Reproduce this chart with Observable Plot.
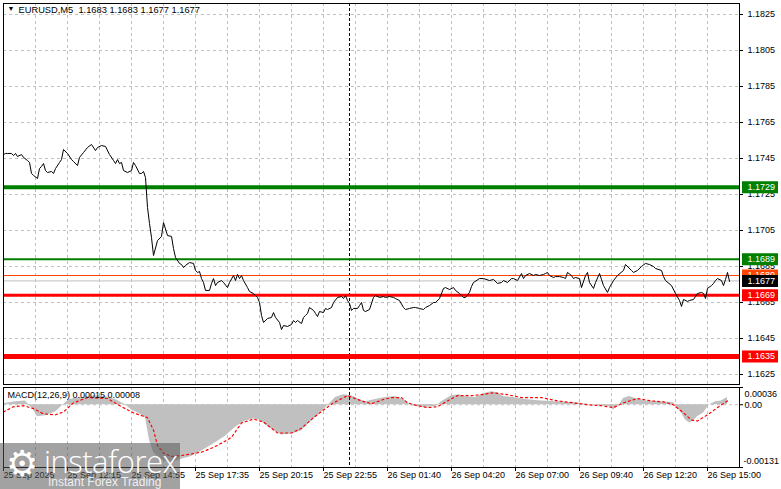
<!DOCTYPE html>
<html><head><meta charset="utf-8">
<script src="https://cdn.jsdelivr.net/npm/d3@7"></script>
<script src="https://cdn.jsdelivr.net/npm/@observablehq/plot@0.6"></script>
<style>
body{margin:0;background:#fff;}
#wrap{position:relative;width:781px;height:489px;overflow:hidden;font-family:"Liberation Sans",Arial,sans-serif;background:#fff;}
#wrap svg{position:absolute;left:0;}
#wm{position:absolute;left:0;top:443px;width:180px;height:46px;background:rgba(85,85,85,0.55);color:#fff;}
#wm .gear{position:absolute;left:6px;top:-2px;font-family:"DejaVu Sans";font-size:36px;line-height:46px;}
#wm .name{position:absolute;left:44px;top:1px;font-family:"Open Sans","Liberation Sans";font-weight:300;font-size:31px;line-height:34px;letter-spacing:-0.5px;}
#wm .tag{position:absolute;left:48px;top:32px;font-family:"Liberation Sans";font-size:12px;line-height:14px;color:rgba(255,255,255,0.85);}
</style></head><body><div id="wrap"></div>
<script>
// ---- data ----
const chartTitle = "EURUSD,M5  1.1683 1.1683 1.1677 1.1677";
const macdTitle = "MACD(12,26,9) 0.00015 0.00008";
const priceTicks = [1.1825, 1.1805, 1.1785, 1.1765, 1.1745, 1.1725, 1.1705, 1.1685, 1.1665, 1.1645, 1.1625];
const macdTicks = [0.00036, 0, -0.00131];
const macdTickLabels = ["0.00036", "0.00", "-0.00131"];
const timeBars = [0, 32, 64, 96, 128, 160, 192, 224, 256, 288, 320, 352];
const timeLabels = ["25 Sep 2025", "25 Sep 12:15", "25 Sep 14:55", "25 Sep 17:35", "25 Sep 20:15", "25 Sep 22:55",
  "26 Sep 01:40", "26 Sep 04:20", "26 Sep 07:00", "26 Sep 09:40", "26 Sep 12:20", "26 Sep 15:00"];
const gridBars = d3.range(0, 369, 16);
const separatorBar = 173; // 26 Sep 00:00
const barCount = 368;

const resistance = [1.1729, 1.1689];
const support = [1.1669, 1.1635];
const askPrice = 1.1680;
const bidPrice = 1.1677;

const priceBar = [0,1,2,4,5,6,7,9,10,12,13,14,15,17,18,19,20,21,22,24,25,26,28,29,30,32,34,35,37,38,40,42,44,46,47,49,51,53,55,56,57,58,59,60,62,64,65,66,68,69,70,71,72,73,74,75,77,79,80,82,84,85,86,88,89,90,91,93,95,96,97,98,99,100,101,103,104,105,106,107,109,110,112,113,115,116,117,118,119,120,122,123,125,127,128,129,130,132,134,135,136,138,139,140,142,144,145,146,147,149,150,151,152,153,155,156,157,158,160,161,162,164,165,167,169,170,171,172,173,174,175,177,178,179,180,181,183,185,186,188,190,191,193,195,196,198,200,201,203,205,206,208,210,211,213,215,216,218,220,221,223,225,226,228,230,231,233,234,235,238,240,243,245,247,249,250,252,254,255,257,259,260,261,263,265,266,268,270,271,272,273,275,276,278,280,281,282,284,285,286,288,289,291,292,293,295,296,298,299,300,302,303,305,307,310,311,314,315,317,319,321,323,325,326,329,330,331,334,336,338,339,340,342,343,345,347,349,350,351,352,354,355,356,357,359,360,361,362,363];
const priceClose = [1.17472,1.17478,1.17478,1.17478,1.17467,1.17478,1.17461,1.17472,1.17456,1.17439,1.17428,1.17367,1.17356,1.17339,1.17394,1.17406,1.17422,1.17383,1.17372,1.17378,1.17367,1.17394,1.17428,1.17444,1.17500,1.17478,1.17444,1.17433,1.17411,1.17456,1.17483,1.17511,1.17528,1.17494,1.17511,1.17522,1.17517,1.17472,1.17439,1.17422,1.17444,1.17422,1.17428,1.17383,1.17372,1.17383,1.17428,1.17411,1.17367,1.17367,1.17378,1.17344,1.17178,1.17089,1.17011,1.16911,1.16994,1.17017,1.17094,1.17022,1.17017,1.16950,1.16900,1.16867,1.16861,1.16844,1.16856,1.16872,1.16867,1.16828,1.16817,1.16822,1.16783,1.16761,1.16717,1.16717,1.16756,1.16783,1.16744,1.16761,1.16772,1.16761,1.16733,1.16761,1.16800,1.16772,1.16806,1.16783,1.16800,1.16772,1.16733,1.16711,1.16700,1.16678,1.16650,1.16578,1.16539,1.16561,1.16567,1.16594,1.16567,1.16539,1.16500,1.16522,1.16517,1.16528,1.16550,1.16539,1.16550,1.16533,1.16567,1.16578,1.16589,1.16622,1.16606,1.16589,1.16572,1.16600,1.16594,1.16617,1.16611,1.16622,1.16650,1.16678,1.16683,1.16672,1.16689,1.16661,1.16644,1.16606,1.16617,1.16617,1.16633,1.16650,1.16606,1.16600,1.16611,1.16678,1.16689,1.16678,1.16683,1.16678,1.16683,1.16678,1.16672,1.16661,1.16622,1.16611,1.16617,1.16622,1.16622,1.16617,1.16611,1.16622,1.16633,1.16650,1.16650,1.16672,1.16728,1.16733,1.16722,1.16733,1.16717,1.16700,1.16678,1.16678,1.16706,1.16739,1.16761,1.16783,1.16783,1.16772,1.16778,1.16756,1.16761,1.16772,1.16761,1.16783,1.16783,1.16772,1.16811,1.16783,1.16800,1.16811,1.16800,1.16806,1.16800,1.16806,1.16811,1.16817,1.16800,1.16789,1.16794,1.16794,1.16789,1.16783,1.16817,1.16800,1.16783,1.16789,1.16783,1.16733,1.16800,1.16817,1.16761,1.16728,1.16761,1.16811,1.16778,1.16744,1.16706,1.16733,1.16772,1.16800,1.16828,1.16861,1.16828,1.16817,1.16828,1.16850,1.16867,1.16861,1.16850,1.16839,1.16828,1.16794,1.16772,1.16744,1.16700,1.16661,1.16628,1.16667,1.16656,1.16661,1.16667,1.16700,1.16706,1.16700,1.16672,1.16728,1.16744,1.16756,1.16772,1.16783,1.16772,1.16744,1.16778,1.16817,1.16767];

const histBar = [0,6,11,15,17,21,26,30,33,39,46,51,56,61,64,68,71,73,75,78,81,85,89,94,99,105,111,116,121,125,128,131,135,139,144,149,152,156,160,163,166,170,174,178,181,186,191,196,200,204,209,216,219,224,228,230,236,240,244,247,250,255,261,269,276,286,290,294,299,303,305,308,310,313,316,321,329,335,336,339,341,343,345,347,350,353,356,359,361,362];
const histValue = [0.00002,0.00006,0.00008,-0.00011,-0.00025,-0.00023,-0.00015,0,0.00011,0.00015,0.00019,0.00017,0.00011,0,-0.00011,-0.00019,-0.00027,-0.00074,-0.00099,-0.00112,-0.00118,-0.00120,-0.00114,-0.00108,-0.00097,-0.00082,-0.00066,-0.00047,-0.00034,-0.00030,-0.00032,-0.00042,-0.00053,-0.00063,-0.00061,-0.00055,-0.00042,-0.00027,-0.00011,0.00002,0.00015,0.00021,0.00019,0.00011,0.00006,0.00011,0.00015,0.00017,0.00011,-0.00002,-0.00006,-0.00004,0.00006,0.00019,0.00021,0.00017,0.00015,0.00023,0.00027,0.00025,0.00017,0.00015,0.00011,0.00008,0.00006,0.00004,0.00002,0,-0.00002,-0.00004,-0.00011,0,0.00013,0.00017,0.00013,0.00008,0.00006,0.00004,-0.00002,-0.00017,-0.00032,-0.00038,-0.00034,-0.00025,-0.00017,0,0.00006,0.00008,0.00013,0.00015];

const signalBar = [0,5,10,15,20,26,30,35,42,52,59,65,72,75,77,80,84,89,99,105,110,114,119,125,130,137,144,149,155,160,165,172,179,184,190,194,199,202,207,212,217,222,227,234,239,245,252,259,269,277,285,292,299,305,310,317,324,330,335,340,344,347,352,357,362];
const signalValue = [-0.00015,-0.00004,-0.00002,-0.00008,-0.00019,-0.00021,-0.00015,0.00004,0.00015,0.00013,-0.00004,-0.00017,-0.00027,-0.00053,-0.00085,-0.00101,-0.00108,-0.00106,-0.00099,-0.00089,-0.00078,-0.00068,-0.00038,-0.00030,-0.00036,-0.00059,-0.00059,-0.00049,-0.00027,-0.00011,0.00004,0.00019,0.00008,0.00002,0.00011,0.00015,0.00015,0.00004,-0.00002,-0.00006,-0.00004,0.00008,0.00019,0.00019,0.00021,0.00025,0.00021,0.00015,0.00015,0.00008,0.00004,0,-0.00002,-0.00006,0.00004,0.00013,0.00008,0.00006,0,-0.00017,-0.00032,-0.00034,-0.00021,-0.00006,0.00008];

// ---- build tables ----
const price = priceBar.map((b, i) => ({bar: b, close: priceClose[i]}));
const hist = histBar.map((b, i) => ({bar: b, v: histValue[i]}));
const signal = signalBar.map((b, i) => ({bar: b, v: signalValue[i]}));
const times = timeBars.map((b, i) => ({bar: b, label: timeLabels[i]}));

const FONT = "'Liberation Sans', Arial, sans-serif";
const grid = {stroke: "#c0c0c0", strokeDasharray: "3,3", strokeWidth: 1};
const wrap = document.getElementById("wrap");

// main price panel
const yLo = 1.1625 - 10 / 18000, yHi = 1.1825 + 11 / 18000;
const boxX1 = 369.5, boxX2 = 387.5;
const boxes = [
  {p: askPrice, c: "#ff4500"},
  {p: bidPrice, c: "#000000"},
  {p: resistance[0], c: "#008000"},
  {p: resistance[1], c: "#008000"},
  {p: support[0], c: "#ff0000"},
  {p: support[1], c: "#ff0000"}
];
const boxMarks = boxes.flatMap(b => [
  Plot.ruleY([b.p], {x1: () => boxX1, x2: () => boxX2, stroke: b.c, strokeWidth: 12}),
  Plot.text([b.p], {x: () => boxX1, y: d => d, text: d => d.toFixed(4), dx: 5, textAnchor: "start", fill: "#fff"})
]);

const main = Plot.plot({
  width: 781, height: 386,
  marginLeft: 3, marginRight: 42, marginTop: 3, marginBottom: 2,
  style: {fontFamily: FONT, fontSize: "9px", background: "transparent", overflow: "visible"},
  x: {domain: [0, barCount], axis: null},
  y: {domain: [yLo, yHi], axis: null},
  marks: [
    Plot.ruleY(priceTicks, grid),
    Plot.ruleX(gridBars, grid),
    Plot.ruleX([separatorBar], {stroke: "#000", strokeDasharray: "3,2"}),
    Plot.ruleY([bidPrice], {stroke: "#c0c0c0", strokeWidth: 1}),
    Plot.ruleY([askPrice], {stroke: "#ff4500", strokeWidth: 1}),
    Plot.ruleY([resistance[0]], {stroke: "#008000", strokeWidth: 4}),
    Plot.ruleY([resistance[1]], {stroke: "#008000", strokeWidth: 2}),
    Plot.ruleY([support[0]], {stroke: "#ff0000", strokeWidth: 3}),
    Plot.ruleY([support[1]], {stroke: "#ff0000", strokeWidth: 5}),
    Plot.line(price, {x: "bar", y: "close", stroke: "#000", strokeWidth: 1}),
    Plot.frame({stroke: "#000"}),
    Plot.ruleY(priceTicks, {x1: () => barCount, x2: () => barCount + 2, stroke: "#000"}),
    Plot.text(priceTicks, {x: () => barCount, y: d => d, text: d => d.toFixed(4), dx: 8, textAnchor: "start", fill: "#000"}),
    ...boxMarks,
    Plot.text(["▼"], {frameAnchor: "top-left", dx: 4, dy: 3, lineAnchor: "top", textAnchor: "start", fontSize: 7, fill: "#000"}),
    Plot.text([chartTitle], {frameAnchor: "top-left", dx: 15, dy: 3, lineAnchor: "top", textAnchor: "start", fill: "#000", fontSize: 9.3})
  ]
});
main.style.top = "0px";
wrap.appendChild(main);

// MACD panel
const mLo = -0.00131, mHi = 0.00036;
const pxM = (mHi - mLo) / 80;
const macd = Plot.plot({
  width: 781, height: 103,
  marginLeft: 3, marginRight: 42, marginTop: 1, marginBottom: 22,
  style: {fontFamily: FONT, fontSize: "9px", background: "transparent", overflow: "visible"},
  x: {domain: [0, barCount], axis: null},
  y: {domain: [mLo, mHi], axis: null},
  marks: [
    Plot.ruleX(gridBars, grid),
    Plot.ruleY([0], grid),
    Plot.areaY(hist, {x: "bar", y: "v", fill: "#c0c0c0"}),
    Plot.line(signal, {x: "bar", y: "v", stroke: "#ff0000", strokeWidth: 1.2, strokeDasharray: "2,3"}),
    Plot.ruleX([separatorBar], {stroke: "#000", strokeDasharray: "3,2"}),
    Plot.frame({stroke: "#000"}),
    Plot.text([macdTitle], {frameAnchor: "top-left", dx: 4, dy: 4, lineAnchor: "top", textAnchor: "start", fill: "#000"}),
    Plot.ruleY(macdTicks, {x1: () => barCount, x2: () => barCount + 2, stroke: "#000"}),
    Plot.text(macdTicks.slice(0, 1), {x: () => barCount, y: d => d, text: () => macdTickLabels[0], dx: 5, dy: 7, textAnchor: "start", fill: "#000"}),
    Plot.text(macdTicks.slice(1, 2), {x: () => barCount, y: d => d, text: () => macdTickLabels[1], dx: 5, textAnchor: "start", fill: "#000"}),
    Plot.text(macdTicks.slice(2, 3), {x: () => barCount, y: d => d, text: () => macdTickLabels[2], dx: 4, dy: -6, textAnchor: "start", fill: "#000"}),
    Plot.ruleX(timeBars, {y1: () => mLo, y2: () => mLo - 4 * pxM, stroke: "#000"}),
    Plot.text(times, {x: "bar", text: "label", frameAnchor: "bottom", dy: 10, dx: 0, textAnchor: "start", fill: "#000"})
  ]
});
macd.style.top = "386px";
wrap.appendChild(macd);

// watermark overlay
const wm = document.createElement("div");
wm.id = "wm";
wm.innerHTML = '<span class="gear">⚙</span><span class="name">instaforex</span><span class="tag">Instant Forex Trading</span>';
wrap.appendChild(wm);
</script>
</body></html>
